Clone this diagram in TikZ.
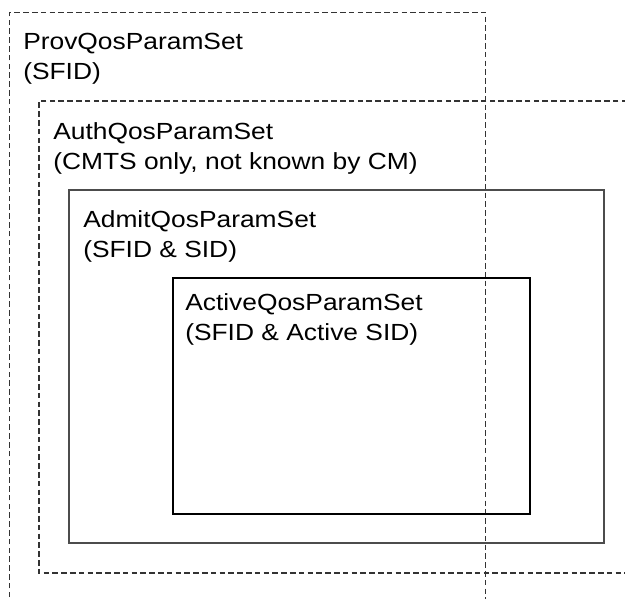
\documentclass[tikz,border=0pt]{standalone}
\usepackage{fontspec}
\setmainfont{Liberation Sans}[FakeStretch=1.13]
\usepackage{tikz}
\usetikzlibrary{positioning}

\begin{document}
\begin{tikzpicture}[
  x=0.75pt, y=-0.75pt,
  font=\fontsize{17.5}{22.5}\selectfont,
  lbl/.style={anchor=north west,inner sep=0pt,align=left},
  setbox/.style={draw=black!80,line width=0.8pt,dash pattern=on 4.2pt off 2.4pt},
  solidbox/.style={draw=black!70,line width=1pt}
]
\useasboundingbox (0,0) rectangle (625,599);
% provisioned and authorized sets (dashed, run off the page)
\draw[setbox] (9.5,650) -- (9.5,12.5) -- (485.5,12.5) -- (485.5,650);
\draw[setbox] (680,101) -- (39,101) -- (39,573) -- (680,573);
% admitted and active sets
\draw[solidbox] (69,190) rectangle (604,543);
\draw[solidbox,draw=black] (173,278) rectangle (530,514);

\node[lbl] (prov) at (23,33) {ProvQosParamSet\\(SFID)};
\node[lbl] (auth) at (53,122) {AuthQosParamSet\\(CMTS only, not known by CM)};
\node[lbl] (admit) at (83,210) {AdmitQosParamSet\\(SFID \& SID)};
\node[lbl] (active) at (185,293) {ActiveQosParamSet\\(SFID \& Active SID)};
\end{tikzpicture}
\end{document}
